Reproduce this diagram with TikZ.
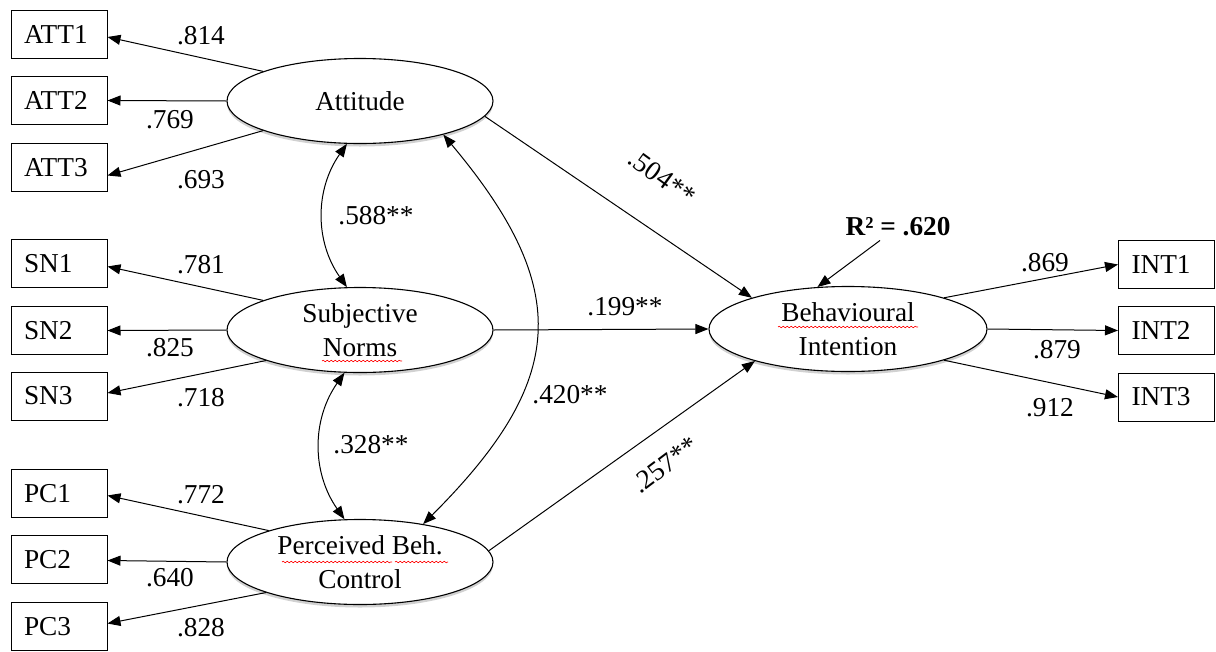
\documentclass[tikz,border=0pt]{standalone}
\usepackage{fontspec}
\setmainfont{Liberation Serif}
\usetikzlibrary{arrows.meta,shapes.geometric,decorations.pathmorphing,shadows}
\begin{document}
\begin{tikzpicture}[x=1pt,y=-1pt,
  every node/.style={font=\fontsize{27.3}{34}\selectfont},
  box/.style={draw, line width=1pt, minimum height=48pt, text width=70pt, inner xsep=13pt, inner ysep=0pt, align=left},
  lat/.style={draw, ellipse, line width=1.1pt, fill=white, minimum width=266pt, minimum height=85pt, align=center, inner sep=0pt,
    drop shadow={shadow xshift=0pt, shadow yshift=-3pt, opacity=0.18, fill=black}},
  arr/.style={line width=1pt, -{Triangle[length=13pt,width=10pt]}},
  dbl/.style={line width=1pt, {Triangle[length=13pt,width=10pt]}-{Triangle[length=13pt,width=10pt]}},
  lbl/.style={inner sep=0pt},
  spell/.style={red, line width=0.6pt, decorate, decoration={snake, segment length=4pt, amplitude=0.8pt}}
]
\useasboundingbox (0,0) rectangle (1216,651);

% latent variables
\node[lat] (att) at (360,101) {Attitude};
\node[lat] (sn) at (360,330) {Subjective\\Norms};
\node[lat] (pc) at (360,562) {Perceived Beh.\\Control};
\node[lat, minimum width=278pt] (bi) at (848,329) {Behavioural\\Intention};

% indicators
\node[box] (att1) at (59,34) {ATT1};
\node[box] (att2) at (59,100.5) {ATT2};
\node[box] (att3) at (59,167.5) {ATT3};
\node[box] (sn1) at (59,263.5) {SN1};
\node[box] (sn2) at (59,330.5) {SN2};
\node[box] (sn3) at (59,396) {SN3};
\node[box] (pc1) at (59,493.5) {PC1};
\node[box] (pc2) at (59,559.5) {PC2};
\node[box] (pc3) at (59,626.5) {PC3};
\node[box] (int1) at (1166.5,264.5) {INT1};
\node[box] (int2) at (1166.5,330.5) {INT2};
\node[box] (int3) at (1166.5,397) {INT3};

% loadings
\draw[arr] (att.163) -- ([yshift=-3pt]att1.east);
\draw[arr] (att.west) -- (att2.east);
\draw[arr] (att.197) -- ([yshift=-8pt]att3.east);
\draw[arr] (sn.163) -- ([yshift=-3pt]sn1.east);
\draw[arr] (sn.west) -- (sn2.east);
\draw[arr] (sn.198) -- ([yshift=3pt]sn3.east);
\draw[arr] (pc.161) -- ([yshift=-2pt]pc1.east);
\draw[arr] (pc.west) -- ([yshift=-1pt]pc2.east);
\draw[arr] (pc.198) -- ([yshift=3pt]pc3.east);
\draw[arr] (bi.18) -- (int1.west);
\draw[arr] (bi.east) -- (int2.west);
\draw[arr] (bi.-18) -- (int3.west);

\node[lbl] (l1) at (201,36) {.814};
\node[lbl] (l2) at (170,120) {.769};
\node[lbl] (l3) at (201,180) {.693};
\node[lbl] (l4) at (201,265) {.781};
\node[lbl] (l5) at (170,348) {.825};
\node[lbl] (l6) at (201,398) {.718};
\node[lbl] (l7) at (201,495) {.772};
\node[lbl] (l8) at (170,578) {.640};
\node[lbl] (l9) at (201,628) {.828};
\node[lbl] (l10) at (1045,263) {.869};
\node[lbl] (l11) at (1057,350) {.879};
\node[lbl] (l12) at (1050,408) {.912};

% correlations
\draw[dbl] (att.253) to[out=235, in=125] (sn.107);
\draw[dbl] (sn.250) to[out=235, in=125] (pc.110);
\draw[dbl] (att.338) to[out=-50, in=45, looseness=1.33] (pc.31);
\node[lbl] (c1) at (376,216) {.588**};
\node[lbl] (c2) at (371,445) {.328**};
\node[lbl] (c3) at (570,395) {.420**};

% structural paths
\draw[arr] (att.-7) -- (bi.162);
\draw[arr] (sn.east) -- (bi.west);
\draw[arr] (pc.5) -- (bi.199);
\node[lbl, rotate=-36] (p1) at (662,177) {.504**};
\node[lbl] (p2) at (625,307) {.199**};
\node[lbl, rotate=37] (p3) at (665,465) {.257**};

% R squared
\node[lbl] (r2) at (898,227) {\textbf{R² = .620}};
\draw[arr] ([xshift=-18pt,yshift=-4pt]r2.south) -- (bi.126);

% spell-check underlines
\draw[spell] (322,361) -- (402,361);
\draw[spell] (282,562) -- (392,562);
\draw[spell] (395,562) -- (448,562);
\draw[spell] (778,327) -- (918,327);
\end{tikzpicture}
\end{document}
